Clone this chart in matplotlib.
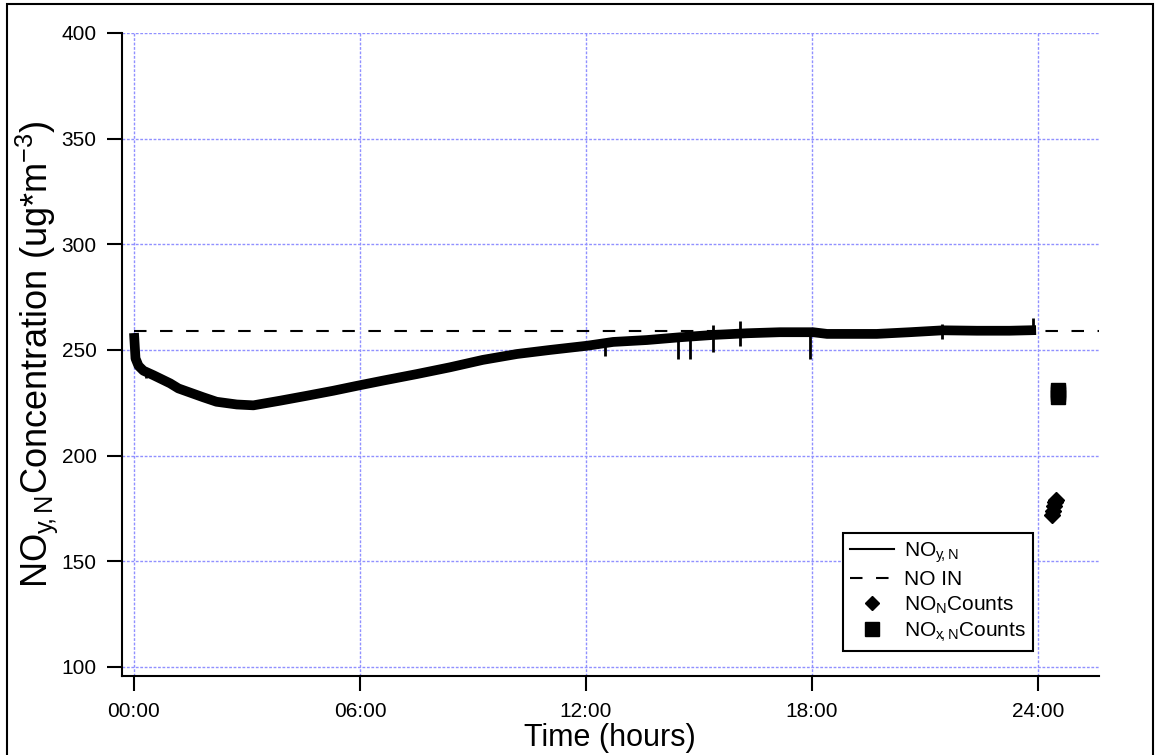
import matplotlib
matplotlib.use('Agg')
import matplotlib.pyplot as plt
from matplotlib.lines import Line2D
from matplotlib.patches import Rectangle

plt.rcParams['font.family'] = ['Liberation Sans', 'DejaVu Sans']
plt.rcParams['mathtext.fontset'] = 'custom'
plt.rcParams['mathtext.rm'] = 'Liberation Sans'
plt.rcParams['mathtext.it'] = 'Liberation Sans'
plt.rcParams['mathtext.default'] = 'rm'

# NOy,N trace, centre of the noisy band (hours, ug/m3)
t_noy = [0.0, 0.04, 0.12, 0.25, 0.51, 0.96, 1.18, 1.84, 2.19, 2.73, 3.17, 3.88,
         4.58, 5.29, 5.91, 6.61, 7.51, 8.39, 9.26, 10.17, 11.04, 12.03, 12.72,
         13.62, 14.49, 15.37, 16.27, 17.15, 18.03, 18.4, 19.72, 20.6, 21.48,
         22.38, 23.25, 23.95]
noy = [258.0, 246.0, 242.5, 240.2, 238.1, 234.2, 231.8, 227.6, 225.5, 224.2,
       223.8, 226.0, 228.3, 230.7, 233.0, 235.5, 238.6, 241.8, 245.3, 248.1,
       250.0, 252.0, 253.8, 254.7, 256.0, 257.1, 257.9, 258.4, 258.4, 257.6,
       257.6, 258.4, 259.3, 259.1, 259.1, 259.4]

# single-sample glitches on the trace
spike_t = [0.33, 12.5, 14.44, 14.76, 15.37, 16.09, 17.95, 21.45, 23.87]
spike_lo = [236.5, 247.3, 245.7, 245.7, 249.2, 252.0, 245.6, 255.0, 259.0]
spike_hi = [241.0, 253.5, 256.0, 256.0, 261.8, 263.8, 258.4, 262.5, 265.0]

# NO IN reference level
t_noin = [0.0, 25.62]
noin = [259.0, 259.0]

# counts
t_non = [24.36, 24.39, 24.42, 24.45, 24.48]
non = [172.0, 174.0, 176.0, 178.0, 179.0]
t_noxn = [24.52, 24.53, 24.53, 24.54]
noxn = [231.0, 230.0, 229.0, 227.8]

xticks = [0, 6, 12, 18, 24]
xticklabels = ['00:00', '06:00', '12:00', '18:00', '24:00']
yticks = [100, 150, 200, 250, 300, 350, 400]

fig = plt.figure(figsize=(11.6, 7.55), dpi=100)
ax = fig.add_axes([0.1048, 0.1046, 0.8426, 0.8517])

ax.plot(t_noy, noy, color='k', lw=7, solid_capstyle='butt', zorder=3)
ax.vlines(spike_t, spike_lo, spike_hi, color='k', lw=2, zorder=3)
ax.plot(t_noin, noin, color='k', lw=1.5, ls=(0, (6, 6.5)), zorder=3)
ax.plot(t_non, non, ls='none', marker='D', ms=8, color='k', zorder=4)
ax.plot(t_noxn, noxn, ls='none', marker='s', ms=10, color='k', zorder=4)

ax.set_xlim(-0.33, 25.62)
ax.set_ylim(95.7, 400)
ax.set_xticks(xticks)
ax.set_xticklabels(xticklabels)
ax.set_yticks(yticks)

ax.spines['top'].set_visible(False)
ax.spines['right'].set_visible(False)
ax.spines['left'].set_linewidth(1.5)
ax.spines['bottom'].set_linewidth(1.5)
ax.tick_params(axis='both', direction='out', length=11, width=1.5, labelsize=15)
ax.tick_params(axis='y', pad=7)
ax.tick_params(axis='x', pad=8)

ax.grid(True, color='#9090ff', ls=(0, (2, 1.2)), lw=1.0)
ax.set_axisbelow(True)

ax.set_xlabel('Time (hours)', fontsize=22, labelpad=1)
ax.set_ylabel(r'NO$_{y\!,N}$Concentration (ug*m$^{-3}$)', fontsize=26, labelpad=1)

handles = [
    Line2D([], [], color='k', lw=1.5, label=r'NO$_{y\!,N}$'),
    Line2D([], [], color='k', lw=1.5, ls=(0, (6, 6.5)), label='NO IN'),
    Line2D([], [], color='k', ls='none', marker='D', ms=7, label=r'NO$_N$Counts'),
    Line2D([], [], color='k', ls='none', marker='s', ms=10, label=r'NO$_{x\!,N}$Counts'),
]
leg = ax.legend(handles=handles, loc='upper right', bbox_to_anchor=(0.9325, 0.2224),
                frameon=True, fancybox=False, edgecolor='k', framealpha=1,
                fontsize=15, handlelength=2.1, handletextpad=0.5,
                labelspacing=0.25, borderpad=0.35, borderaxespad=0)
leg.get_frame().set_linewidth(1.5)

# frame around the whole picture
fig.patches.append(Rectangle((7 / 1160, -0.02), 1146 / 1160, 1.02 - 4 / 755,
                             transform=fig.transFigure, fill=False,
                             edgecolor='k', lw=1.5))

fig.savefig('out.png', dpi=100)
